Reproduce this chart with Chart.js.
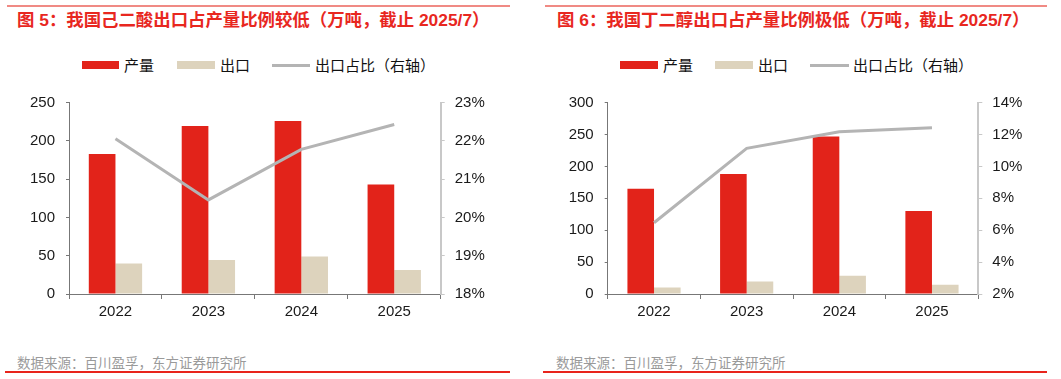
<!DOCTYPE html>
<html>
<head>
<meta charset="utf-8">
<script src="https://cdn.jsdelivr.net/npm/chart.js@4.4.1/dist/chart.umd.min.js"></script>
<style>
  html, body { margin: 0; padding: 0; background: #fff; }
  body { width: 1061px; height: 379px; position: relative; overflow: hidden;
         font-family: "Liberation Sans", Arial, "Noto Sans CJK SC", sans-serif; }
  .abs { position: absolute; }
  .topline { height: 2px; background: #f08a84; }
  .botline { height: 2px; background: #e8241c; }
  .title { color: #e8271f; font-weight: bold; font-size: 17.4px; white-space: nowrap;
           font-family: "Liberation Sans", Arial, "Noto Sans CJK SC", sans-serif; line-height: 20px; }
  .legtext { font-size: 15px; color: #111; white-space: nowrap; line-height: 18px;
             font-family: "Noto Sans CJK SC", sans-serif; }
  .src { font-size: 13.5px; color: #9a9a9a; white-space: nowrap; line-height: 16px;
         font-family: "Noto Sans CJK SC", sans-serif; }
  .sw { height: 8px; }
  .ln { height: 3px; background: #b4b4b4; }
  canvas { position: absolute; }
</style>
</head>
<body>
<!-- left panel -->
<div class="abs topline" style="left:7px; top:5px; width:503px;"></div>
<div class="abs title" style="left:17px; top:10px;">图 5：我国己二酸出口占产量比例较低（万吨，截止 2025/7）</div>
<div class="abs sw" style="left:82px; top:61px; width:37px; background:#e2231a;"></div>
<div class="abs legtext" style="left:124px; top:56px;">产量</div>
<div class="abs sw" style="left:177px; top:61px; width:38px; background:#ddd3bd;"></div>
<div class="abs legtext" style="left:220px; top:56px;">出口</div>
<div class="abs ln" style="left:272px; top:64px; width:38px;"></div>
<div class="abs legtext" style="left:315px; top:56px;">出口占比（右轴）</div>
<div class="abs src" style="left:17px; top:354px;">数据来源：百川盈孚，东方证券研究所</div>
<div class="abs botline" style="left:5px; top:371px; width:505px;"></div>
<canvas id="c1" width="530" height="250" style="left:0px; top:80px; width:530px; height:250px;"></canvas>

<!-- right panel -->
<div class="abs topline" style="left:545px; top:5px; width:502px;"></div>
<div class="abs title" style="left:557px; top:10px;">图 6：我国丁二醇出口占产量比例极低（万吨，截止 2025/7）</div>
<div class="abs sw" style="left:620px; top:61px; width:38px; background:#e2231a;"></div>
<div class="abs legtext" style="left:663px; top:56px;">产量</div>
<div class="abs sw" style="left:715px; top:61px; width:38px; background:#ddd3bd;"></div>
<div class="abs legtext" style="left:758px; top:56px;">出口</div>
<div class="abs ln" style="left:810px; top:64px; width:39px;"></div>
<div class="abs legtext" style="left:853px; top:56px;">出口占比（右轴）</div>
<div class="abs src" style="left:556px; top:354px;">数据来源：百川盈孚，东方证券研究所</div>
<div class="abs botline" style="left:543px; top:371px; width:504px;"></div>
<canvas id="c2" width="531" height="250" style="left:530px; top:80px; width:531px; height:250px;"></canvas>

<script>
// ---- data ----
const categories = ['2022', '2023', '2024', '2025'];

// 己二酸 (adipic acid)
const adipicOutput = [183, 219.5, 226, 143];
const adipicExport = [40, 44.5, 49, 31.5];
const adipicRatio  = [22.06, 20.46, 21.78, 22.43];
const adipicLeftTicks  = [0, 50, 100, 150, 200, 250];
const adipicRightTicks = [18, 19, 20, 21, 22, 23];

// 丁二醇 (BDO)
const bdoOutput = [165, 188, 247, 130];
const bdoExport = [10, 19.5, 28.5, 14.5];
const bdoRatio  = [6.47, 11.14, 12.18, 12.43];
const bdoLeftTicks  = [0, 50, 100, 150, 200, 250, 300];
const bdoRightTicks = [2, 4, 6, 8, 10, 12, 14];

const seriesNames = ['产量', '出口', '出口占比（右轴）'];

const RED = '#e2231a', TAN = '#ddd3bd', GREY = '#b4b4b4';
const AXIS = '#777777', RAXIS = '#c8c8c8', TXT = '#1a1a1a';
const FONT = '"Liberation Sans", Arial, sans-serif';

function makeChart(id, output, exp, ratio, lt, rt, yWidth, y1Width) {
  const ctx = document.getElementById(id);
  return new Chart(ctx, {
    data: {
      labels: categories,
      datasets: [
        { type: 'line', label: seriesNames[2], data: ratio, yAxisID: 'y1',
          borderColor: GREY, borderWidth: 3, pointRadius: 0, tension: 0, order: 0 },
        { type: 'bar', label: seriesNames[0], data: output, yAxisID: 'y',
          backgroundColor: RED, order: 1, categoryPercentage: 0.574, barPercentage: 1 },
        { type: 'bar', label: seriesNames[1], data: exp, yAxisID: 'y',
          backgroundColor: TAN, order: 1, categoryPercentage: 0.574, barPercentage: 1 }
      ]
    },
    options: {
      responsive: false,
      animation: false,
      events: [],
      layout: { padding: { top: 22.7, left: 0, right: 0, bottom: 0 } },
      plugins: { legend: { display: false }, tooltip: { enabled: false } },
      scales: {
        x: {
          offset: true,
          grid: { display: true, drawOnChartArea: false, offset: true, tickLength: 5, color: AXIS },
          border: { color: AXIS, width: 1 },
          ticks: { color: TXT, font: { family: FONT, size: 15 }, padding: 4, maxRotation: 0 },
          afterFit: s => { s.height = 36; }
        },
        y: {
          position: 'left',
          min: lt[0], max: lt[lt.length - 1],
          afterBuildTicks: s => { s.ticks = lt.map(v => ({ value: v })); },
          grid: { display: true, drawOnChartArea: false, tickLength: 3, color: AXIS },
          border: { color: AXIS, width: 1 },
          ticks: { color: TXT, font: { family: FONT, size: 15 }, padding: 11 },
          afterFit: s => { s.width = yWidth; }
        },
        y1: {
          position: 'right',
          min: rt[0], max: rt[rt.length - 1],
          afterBuildTicks: s => { s.ticks = rt.map(v => ({ value: v })); },
          grid: { display: true, drawOnChartArea: false, tickLength: 4, color: RAXIS },
          border: { color: RAXIS, width: 2 },
          ticks: { color: TXT, font: { family: FONT, size: 15 }, padding: 10,
                   callback: v => v + '%' },
          afterFit: s => { s.width = y1Width; }
        }
      }
    }
  });
}

makeChart('c1', adipicOutput, adipicExport, adipicRatio, adipicLeftTicks, adipicRightTicks, 69, 89.3);
makeChart('c2', bdoOutput, bdoExport, bdoRatio, bdoLeftTicks, bdoRightTicks, 77.7, 82.7);
</script>
</body>
</html>
